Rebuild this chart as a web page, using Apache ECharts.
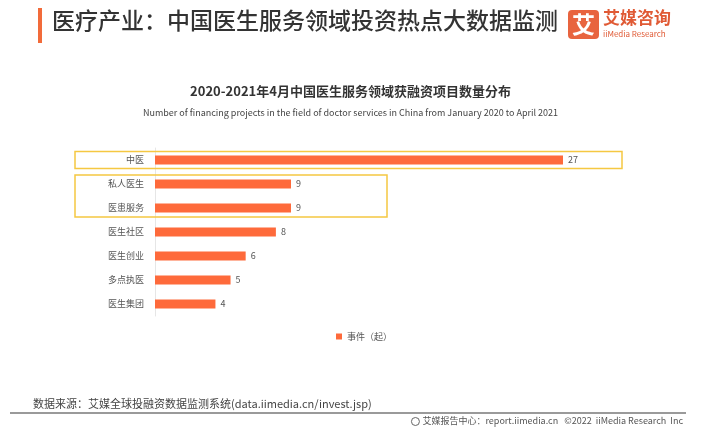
<!DOCTYPE html>
<html><head><meta charset="utf-8">
<script src="https://cdn.jsdelivr.net/npm/echarts@6/dist/echarts.min.js"></script>
<style>html,body{margin:0;padding:0;background:#fff}#c{width:701px;height:435px}</style>
</head><body><div id="c"></div>
<script>
const categories = ['中医','私人医生','医患服务','医生社区','医生创业','多点执医','医生集团'];
const values = [27, 9, 9, 8, 6, 5, 4];
const seriesName = '事件（起）';
const highlightGroups = [['中医','中医'], ['私人医生','医患服务']];

const FONT = '"Noto Sans CJK SC","Noto Sans",sans-serif';
const chart = echarts.init(document.getElementById('c'), null, {renderer:'canvas'});
const footRight = '艾媒报告中心：report.iimedia.cn   ©2022  iiMedia Research  Inc';
const footFont = '9px ' + FONT;
const mctx = document.createElement('canvas').getContext('2d');
mctx.font = footFont;
const footW = mctx.measureText(footRight).width;

const option = {
  backgroundColor:'#fff',
  animation:false,
  textStyle:{fontFamily:FONT},
  title:[
    {text:'2020-2021年4月中国医生服务领域获融资项目数量分布', left:'center', top:80,
     textStyle:{fontSize:13, fontWeight:'bold', color:'#333', fontFamily:FONT}},
    {text:'Number of financing projects in the field of doctor services in China from January 2020 to April 2021',
     left:'center', top:103, textStyle:{fontSize:9, fontWeight:'normal', color:'#444', fontFamily:FONT}}
  ],
  legend:{data:[seriesName], left:331, top:327, itemWidth:6, itemHeight:6, itemGap:4,
    icon:'rect', textStyle:{fontSize:9, color:'#555', fontFamily:FONT}},
  grid:{left:155, top:148, width:408, height:168, containLabel:false},
  xAxis:{type:'value', min:0, max:27, show:false},
  yAxis:{type:'category', data:categories, inverse:true,
    axisLine:{show:true, lineStyle:{color:'#e6e6e6', width:1}},
    axisTick:{show:false},
    axisLabel:{fontSize:9, color:'#555', margin:11, fontFamily:FONT}},
  series:[{name:seriesName, type:'bar', data:values, barWidth:9,
    itemStyle:{color:'#fe6a3b'},
    label:{show:true, position:'right', distance:5, fontSize:9, color:'#555', fontFamily:FONT}}],
  graphic:[
    {type:'rect', shape:{x:38,y:8,width:4,height:35}, style:{fill:'#f26b3a'}},
    {type:'text', left:52, top:9, style:{text:'医疗产业：中国医生服务领域投资热点大数据监测', font:'500 23px '+FONT, fill:'#333'}},
    {type:'rect', shape:{x:568,y:10,width:31,height:29,r:4}, style:{fill:'#e8643f'}},
    {type:'text', style:{x:583.5,y:24.5,text:'艾', font:'bold 23px '+FONT, fill:'#fff', align:'center', verticalAlign:'middle'}},
    {type:'text', style:{x:603,y:9,text:'艾媒咨询', font:'bold 17px '+FONT, fill:'#e05a35'}},
    {type:'text', style:{x:603,y:30,text:'iiMedia Research', font:'8px '+FONT, fill:'#e05a35'}},
    {type:'text', style:{x:33,y:398,text:'数据来源：艾媒全球投融资数据监测系统(data.iimedia.cn/invest.jsp)', font:'11px '+FONT, fill:'#444'}},
    {type:'rect', shape:{x:10,y:412,width:676,height:2}, style:{fill:'#9a9a9a'}},
    {type:'circle', shape:{cx:683-footW-7,cy:421.5,r:4}, style:{fill:'none', stroke:'#666', lineWidth:1}},
    {type:'text', style:{x:683,y:416,text:footRight, font:footFont, fill:'#555', align:'right'}}
  ]
};
chart.setOption(option);
const boxes = highlightGroups.map((g,i)=>{
  const y0 = chart.convertToPixel({yAxisIndex:0}, g[0]);
  const y1 = chart.convertToPixel({yAxisIndex:0}, g[1]);
  const pad = i===0 ? 8.5 : 9;
  const right = i===0 ? 622 : 387;
  return {type:'rect', shape:{x:75, y:y0-pad, width:right-75, height:(y1-y0)+pad*2},
    style:{fill:'none', stroke:'#f5c842', lineWidth:1.5}, z:10};
});
chart.setOption({graphic: option.graphic.concat(boxes)});
</script></body></html>
